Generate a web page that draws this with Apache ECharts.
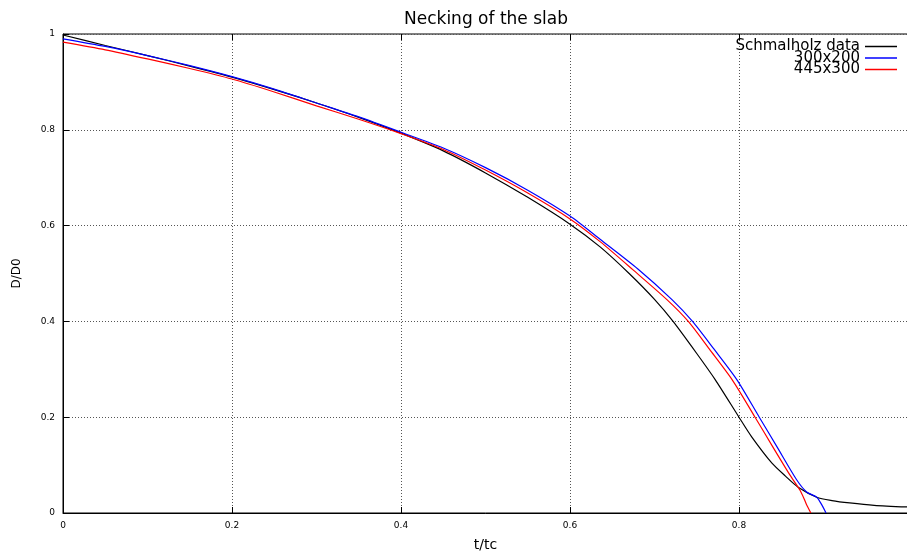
<!DOCTYPE html>
<html>
<head>
<meta charset="utf-8">
<script src="https://cdn.jsdelivr.net/npm/echarts@6/dist/echarts.min.js"></script>
<style>
  html, body { margin: 0; padding: 0; background: #fff; }
  #chart { width: 907px; height: 551px; }
</style>
</head>
<body>
<div id="chart"></div>
<script>
// values
const seriesNames = ['Schmalholz data', '300x200', '445x300'];
const seriesColors = ['#000000', '#0000ff', '#ff0000'];

const schmalX = [0, 0.05, 0.1, 0.15, 0.2, 0.25, 0.3, 0.35, 0.4, 0.45, 0.5, 0.55, 0.6, 0.636, 0.67, 0.7, 0.722, 0.75, 0.772, 0.8, 0.815, 0.839, 0.855, 0.87, 0.892, 0.91, 0.931, 0.96, 1.0];
const schmalY = [0.998, 0.976, 0.955, 0.933, 0.910, 0.884, 0.856, 0.826, 0.793, 0.756, 0.710, 0.659, 0.603, 0.555, 0.500, 0.446, 0.400, 0.333, 0.278, 0.200, 0.159, 0.104, 0.077, 0.054, 0.033, 0.026, 0.021, 0.016, 0.0125];

const blueX = [0, 0.05, 0.1, 0.15, 0.2, 0.25, 0.3, 0.35, 0.4, 0.45, 0.5, 0.55, 0.6, 0.636, 0.68, 0.721, 0.745, 0.77, 0.7976, 0.824, 0.845, 0.868, 0.880, 0.892, 0.898, 0.903];
const blueY = [0.990, 0.974, 0.955, 0.934, 0.911, 0.885, 0.856, 0.827, 0.795, 0.762, 0.721, 0.674, 0.620, 0.571, 0.510, 0.445, 0.400, 0.343, 0.278, 0.200, 0.138, 0.070, 0.044, 0.033, 0.017, 0.0];

const redX = [0, 0.05, 0.1, 0.15, 0.2, 0.25, 0.3, 0.35, 0.4, 0.45, 0.5, 0.55, 0.6, 0.636, 0.675, 0.715, 0.740, 0.765, 0.792, 0.819, 0.840, 0.860, 0.872, 0.877, 0.880, 0.885];
const redY = [0.983, 0.967, 0.948, 0.928, 0.906, 0.879, 0.850, 0.822, 0.792, 0.759, 0.716, 0.668, 0.614, 0.566, 0.507, 0.445, 0.400, 0.342, 0.278, 0.200, 0.138, 0.080, 0.048, 0.030, 0.017, 0.0];

const xTicks = [0, 0.2, 0.4, 0.6, 0.8];
const yTicks = [0, 0.2, 0.4, 0.6, 0.8, 1];

const zip = (xs, ys) => xs.map((x, i) => [x, ys[i]]);
const allData = [zip(schmalX, schmalY), zip(blueX, blueY), zip(redX, redY)];

const font = 'DejaVu Sans';
const chart = echarts.init(document.getElementById('chart'), null, { renderer: 'canvas' });

const tickLabel = (v, list) => {
    const hit = list.find(t => Math.abs(t - v) < 1e-6);
    return hit === undefined ? '' : String(hit);
};

const gridDots = { color: '#555', type: [1, 2], width: 1 };

const option = {
    animation: false,
    backgroundColor: '#fff',
    title: {
        text: 'Necking of the slab',
        left: 481,
        textAlign: 'center',
        top: 6,
        textStyle: { fontFamily: font, fontSize: 17, fontWeight: 'normal', color: '#000' }
    },
    legend: {
        orient: 'vertical',
        right: 10,
        top: 39,
        padding: 0,
        align: 'right',
        icon: 'rect',
        itemWidth: 32,
        itemHeight: 1.5,
        itemGap: -3.5,
        data: seriesNames,
        textStyle: { fontFamily: font, fontSize: 15, color: '#000' }
    },
    grid: {
        left: 63,
        top: 34,
        width: 845,
        height: 479,
        outerBoundsMode: 'none',
        containLabel: false,
        show: true,
        borderColor: '#000',
        borderWidth: 1
    },
    xAxis: [{
        type: 'value',
        min: 0,
        max: 1,
        interval: 0.2,
        name: 't/tc',
        nameLocation: 'middle',
        nameGap: 25,
        nameTextStyle: { fontFamily: font, fontSize: 14, color: '#000' },
        axisLine: { show: true, lineStyle: { color: '#000', width: 1 } },
        axisTick: { show: true, inside: true, length: 6, lineStyle: { color: '#000' } },
        axisLabel: {
            fontFamily: font, fontSize: 9, color: '#000', margin: 8,
            formatter: v => tickLabel(v, xTicks)
        },
        splitLine: { show: true, lineStyle: gridDots }
    }, {
        type: 'value',
        position: 'top',
        min: 0,
        max: 1,
        interval: 0.2,
        axisLine: { show: false },
        axisTick: { show: true, inside: true, length: 6, lineStyle: { color: '#000' } },
        axisLabel: { show: false },
        splitLine: { show: false }
    }],
    yAxis: {
        type: 'value',
        min: 0,
        max: 1,
        interval: 0.2,
        name: 'D/D0',
        nameLocation: 'middle',
        nameGap: 40,
        nameTextStyle: { fontFamily: font, fontSize: 12, color: '#000' },
        axisLine: { show: true, lineStyle: { color: '#000', width: 1 } },
        axisTick: { show: true, inside: true, length: 6, lineStyle: { color: '#000' } },
        axisLabel: {
            fontFamily: font, fontSize: 9, color: '#000', margin: 8,
            formatter: v => tickLabel(v, yTicks)
        },
        splitLine: { show: true, lineStyle: gridDots }
    },
    series: seriesNames.map((name, i) => ({
        name,
        type: 'line',
        xAxisIndex: 0,
        data: allData[i],
        showSymbol: false,
        symbol: 'none',
        smooth: 0.25,
        color: seriesColors[i],
        lineStyle: { color: seriesColors[i], width: 1.2 }
    }))
};

chart.setOption(option);
</script>
</body>
</html>
